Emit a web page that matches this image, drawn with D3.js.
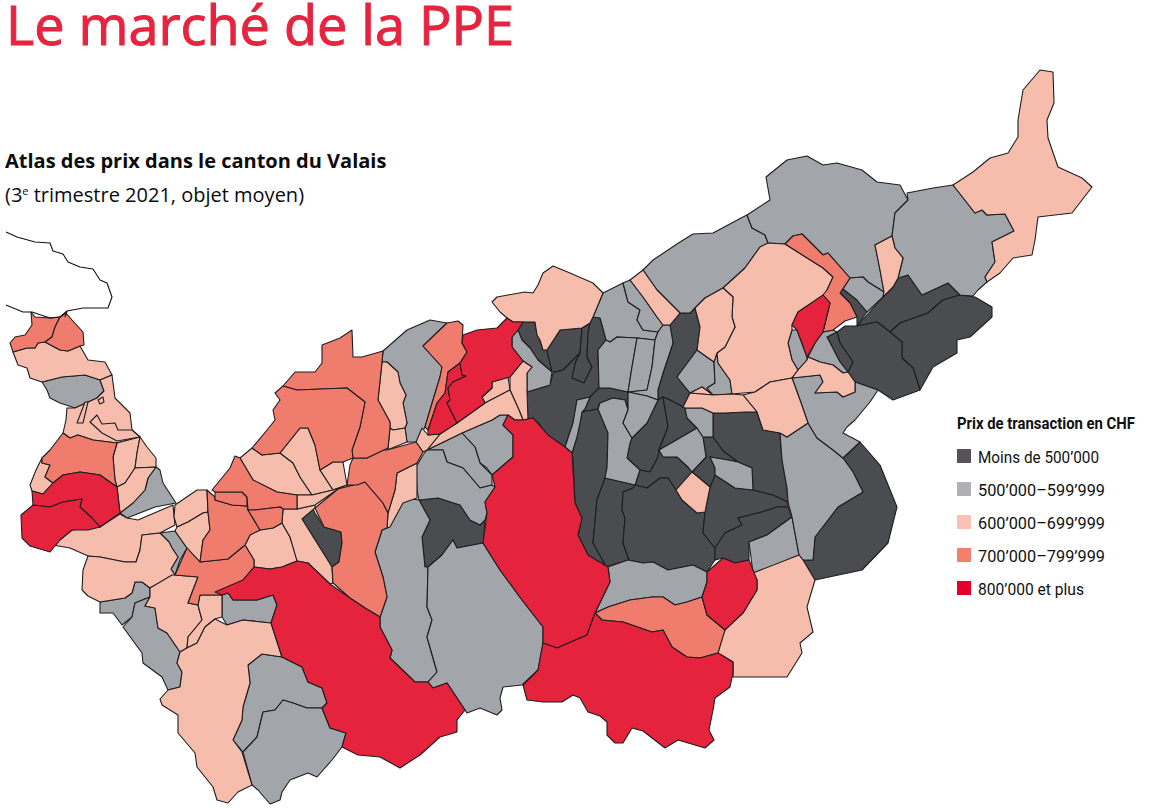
<!DOCTYPE html>
<html lang="fr">
<head>
<meta charset="utf-8">
<title>Le marché de la PPE</title>
<script src="https://cdn.jsdelivr.net/npm/d3@7"></script>
<style>
  html, body { margin: 0; padding: 0; background: #fff; }
  svg { display: block; }
  .region { stroke: #1d1d1f; stroke-width: 1.1; stroke-linejoin: round; }
  .shore { fill: none; stroke: #111; stroke-width: 1.1; stroke-linejoin: round; }
  .title { font-family: "Open Sans"; font-size: 54px; font-weight: 500; fill: #e6243f; stroke: #e6243f; stroke-width: 1; }
  .sub { font-family: "Open Sans"; font-size: 20px; fill: #0b0b0b; }
  .legend { font-family: "Roboto"; font-size: 16px; fill: #111; }
</style>
</head>
<body>
<script>
var classLabels = ["Moins de 500’000", "500’000–599’999", "600’000–699’999", "700’000–799’999", "800’000 et plus"];
var classColors = ["#4b4c50", "#a2a5aa", "#f7bdac", "#f07c6e", "#e5233d"];
var legendColors = ["#55525a", "#b0afb5", "#f9c2b3", "#f37f6c", "#e60028"];

// outlines, one list per price class
var ringsUnder500 = [
  [[312,507],[302,519],[317,543],[332,567],[339,562],[342,543],[341,532],[324,527],[315,513]],
  [[419,500],[438,498],[460,505],[470,520],[480,525],[485,520],[484,537],[483,543],[457,548],[453,540],[442,555],[428,567],[425,567],[422,537],[430,520]],
  [[523,322],[535,322],[537,335],[540,340],[543,350],[547,350],[552,372],[538,360],[530,348],[522,340],[518,330]],
  [[547,350],[560,330],[582,328],[580,353],[563,370],[552,372]],
  [[582,328],[590,323],[588,333],[587,357],[592,367],[584,383],[572,378],[575,363],[580,353]],
  [[527,392],[550,385],[553,373],[563,370],[580,353],[575,363],[572,378],[584,383],[592,367],[587,357],[588,333],[590,323],[593,317],[600,318],[602,325],[606,340],[598,350],[599,388],[590,397],[577,400],[573,423],[565,447],[550,438],[540,425],[533,418],[528,419],[525,403]],
  [[670,325],[680,313],[690,313],[695,308],[700,327],[698,343],[697,350],[677,377],[690,393],[683,407],[670,400],[663,397],[658,400],[658,390],[663,373],[673,343]],
  [[590,397],[599,388],[610,388],[628,392],[628,410],[625,400],[613,398],[600,403],[598,409],[582,412],[585,409]],
  [[582,412],[598,409],[608,433],[607,468],[605,478],[597,500],[593,543],[607,568],[588,555],[578,535],[582,518],[575,503],[573,458],[572,453],[577,437],[580,423]],
  [[605,478],[635,485],[633,488],[623,492],[622,510],[625,518],[623,543],[629,560],[608,566],[607,568],[593,543],[597,500]],
  [[663,397],[668,427],[659,450],[658,457],[650,472],[640,470],[627,458],[630,443],[632,438],[647,423],[658,400]],
  [[663,397],[670,400],[683,407],[685,408],[687,418],[697,428],[673,442],[659,450],[668,427]],
  [[640,470],[650,472],[658,457],[659,450],[663,457],[677,457],[688,467],[692,472],[676,490],[668,478],[660,478],[647,488],[635,485]],
  [[623,492],[633,488],[635,485],[647,488],[660,478],[668,478],[676,490],[682,500],[697,513],[705,512],[703,533],[715,548],[715,560],[707,572],[693,565],[668,570],[653,562],[643,563],[629,560],[623,543],[625,518],[622,510]],
  [[715,475],[735,488],[753,490],[773,495],[788,502],[788,507],[777,507],[762,512],[738,518],[742,525],[725,533],[715,548],[703,533],[705,512],[710,487]],
  [[715,548],[725,533],[742,525],[738,518],[762,512],[777,507],[788,507],[792,517],[767,535],[749,542],[749,560],[735,563],[723,558],[715,560]],
  [[713,437],[713,413],[725,413],[745,412],[757,412],[763,430],[780,433],[782,460],[787,488],[788,502],[773,495],[753,490],[752,468],[738,462],[723,451]],
  [[703,437],[713,437],[723,451],[738,462],[728,460],[710,457],[715,468],[715,475],[710,487],[692,472],[706,457]],
  [[843,458],[860,442],[880,465],[897,507],[888,543],[862,570],[815,580],[803,560],[813,560],[815,537],[838,507],[863,492],[853,472]],
  [[857,326],[883,297],[893,287],[898,278],[908,275],[922,295],[948,283],[960,295],[943,300],[928,313],[900,323],[890,332],[877,322]],
  [[900,323],[928,313],[943,300],[960,295],[975,297],[992,307],[992,317],[970,337],[957,340],[957,353],[933,367],[920,390],[913,368],[902,358],[902,342],[890,332]],
  [[837,332],[845,326],[857,326],[877,322],[890,332],[902,342],[902,358],[913,368],[920,390],[893,400],[878,390],[855,382],[848,372],[853,362],[840,343]],
  [[827,337],[837,332],[840,343],[853,362],[848,372],[840,362]],
  [[840,293],[843,289],[857,300],[867,312],[857,326],[857,317],[850,303]]
];
var rings500 = [
  [[42,382],[62,377],[85,375],[100,380],[104,391],[97,398],[75,408],[60,403],[50,398],[47,390]],
  [[156,467],[160,470],[163,483],[176,503],[155,507],[127,518],[120,513],[133,503],[145,490],[148,478]],
  [[160,533],[175,531],[187,548],[180,560],[175,575],[171,569],[178,557],[172,548],[169,542]],
  [[100,602],[125,598],[132,593],[135,582],[142,582],[150,588],[150,597],[135,603],[132,617],[122,625],[113,613],[100,613]],
  [[150,597],[145,606],[155,608],[158,628],[167,633],[180,652],[177,663],[182,672],[180,687],[168,690],[162,677],[143,663],[142,653],[123,627],[132,617],[135,603]],
  [[222,595],[228,593],[233,600],[257,600],[273,595],[277,605],[271,623],[243,620],[227,625],[222,617]],
  [[248,665],[262,654],[282,657],[302,667],[308,682],[322,688],[327,703],[322,708],[307,708],[293,703],[283,700],[275,710],[263,712],[257,737],[243,752],[233,740],[242,720],[243,707],[250,683]],
  [[263,712],[275,710],[283,700],[293,703],[307,708],[322,708],[330,728],[346,733],[342,747],[332,760],[317,777],[308,773],[290,780],[282,792],[280,800],[270,804],[258,790],[252,785],[243,752],[257,737]],
  [[383,351],[407,330],[430,320],[447,323],[423,346],[442,367],[440,377],[433,400],[425,427],[417,442],[407,442],[405,428],[407,423],[403,403],[406,395],[400,383],[398,372],[387,362],[382,362]],
  [[512,337],[518,330],[522,340],[530,348],[538,360],[552,372],[550,385],[527,392],[527,373],[532,367],[523,361],[512,347]],
  [[462,433],[492,420],[500,415],[508,415],[503,425],[513,435],[513,457],[492,475],[487,468],[480,463],[475,447]],
  [[427,450],[462,433],[475,447],[480,463],[492,475],[492,485],[480,488],[463,468],[447,462],[443,450]],
  [[416,467],[423,455],[427,450],[443,450],[447,462],[463,468],[480,488],[492,485],[495,487],[485,502],[487,513],[485,520],[480,525],[470,520],[460,505],[438,498],[419,500],[417,490]],
  [[387,528],[405,498],[419,500],[430,520],[422,537],[425,567],[428,567],[427,607],[432,620],[427,637],[437,672],[428,682],[415,682],[390,658],[392,650],[380,627],[380,617],[387,597],[383,577],[375,552],[382,530]],
  [[428,567],[442,555],[453,540],[457,548],[483,543],[500,570],[522,600],[543,627],[543,643],[538,670],[522,685],[503,687],[500,698],[502,710],[497,715],[480,708],[467,713],[465,710],[447,683],[433,688],[428,682],[437,672],[427,637],[432,620],[427,607]],
  [[608,567],[628,560],[643,563],[653,562],[668,570],[693,565],[707,572],[707,582],[702,597],[687,602],[675,605],[663,597],[652,597],[630,600],[608,607],[595,613],[610,582]],
  [[749,542],[767,535],[792,517],[799,555],[777,565],[753,573]],
  [[780,433],[787,437],[808,423],[817,438],[833,450],[843,458],[853,472],[863,492],[838,507],[815,537],[813,560],[803,560],[799,555],[792,517],[788,502],[787,488],[782,460]],
  [[792,378],[820,375],[823,382],[815,393],[837,392],[843,397],[855,392],[855,382],[878,390],[870,402],[855,420],[847,427],[843,433],[860,442],[843,458],[833,450],[817,438],[808,423],[800,400]],
  [[593,317],[603,293],[623,283],[628,302],[640,310],[637,320],[643,330],[658,332],[655,340],[637,338],[617,337],[610,342],[606,340],[602,325],[600,318]],
  [[623,283],[630,280],[643,297],[657,317],[663,325],[658,332],[643,330],[637,320],[640,310],[628,302]],
  [[643,270],[653,260],[680,242],[693,234],[713,233],[743,217],[747,215],[752,228],[765,235],[768,243],[760,247],[745,268],[723,288],[705,298],[695,308],[690,313],[680,313],[657,290]],
  [[610,342],[617,337],[637,338],[632,367],[628,392],[610,388],[599,388],[598,350],[606,340]],
  [[637,338],[655,340],[652,367],[647,390],[628,392],[632,367]],
  [[655,340],[658,332],[663,325],[670,325],[673,343],[663,373],[658,390],[658,400],[647,396],[628,392],[647,390],[652,367]],
  [[577,400],[590,397],[585,409],[582,412],[580,423],[577,437],[572,453],[565,447],[573,423]],
  [[600,403],[613,398],[625,400],[628,410],[623,423],[632,438],[630,443],[627,458],[640,470],[635,485],[605,478],[607,468],[608,433],[598,409]],
  [[628,392],[647,396],[658,400],[647,423],[632,438],[623,423],[628,410]],
  [[659,450],[673,442],[697,428],[703,437],[706,457],[692,472],[688,467],[677,457],[663,457]],
  [[710,457],[728,460],[738,462],[752,468],[753,490],[735,488],[715,475],[715,468]],
  [[685,408],[702,408],[713,413],[713,437],[703,437],[697,428],[687,418]],
  [[677,377],[697,350],[714,362],[715,383],[707,388],[713,395],[702,387],[690,393]],
  [[714,362],[717,353],[718,363],[730,380],[732,394],[713,395],[707,388],[715,383]],
  [[720,395],[732,394],[727,400]],
  [[747,215],[770,200],[766,177],[787,160],[807,156],[823,165],[837,163],[862,170],[877,182],[900,185],[908,200],[895,213],[892,236],[875,245],[880,270],[884,292],[868,282],[863,277],[850,278],[828,253],[823,255],[802,234],[793,236],[785,244],[768,243],[765,235],[752,228]],
  [[907,193],[933,188],[953,185],[975,213],[982,210],[987,215],[1005,214],[1014,231],[992,242],[995,262],[985,277],[987,282],[978,290],[973,296],[960,295],[948,283],[922,295],[908,275],[898,278],[903,258],[895,248],[892,236],[895,213],[908,200]],
  [[843,289],[850,278],[863,277],[868,282],[884,292],[883,297],[867,312],[857,300]],
  [[808,357],[815,343],[823,332],[833,330],[837,332],[827,337],[840,362],[848,372],[843,373],[833,365],[820,362]],
  [[792,330],[797,330],[807,357],[807,360],[798,370],[792,360],[788,343]]
];
var rings600 = [
  [[13,352],[27,348],[35,348],[38,343],[45,342],[60,350],[68,351],[80,346],[88,360],[105,362],[112,375],[100,380],[85,375],[62,377],[42,382],[30,378],[27,368],[18,365]],
  [[67,408],[75,408],[97,398],[104,391],[100,380],[112,375],[115,398],[130,413],[132,430],[140,437],[117,443],[93,440],[78,435],[70,438],[63,433],[66,420]],
  [[90,422],[97,415],[102,424],[115,423],[118,430],[132,430],[140,437],[117,441],[102,433]],
  [[85,402],[88,402],[83,423],[77,423]],
  [[98,400],[103,397],[104,402],[100,404]],
  [[42,458],[42,463],[50,465],[45,477],[53,483],[43,494],[32,491],[30,485],[36,470]],
  [[117,443],[140,437],[137,453],[135,468],[125,483],[117,487],[115,480],[113,457]],
  [[140,437],[147,447],[156,458],[156,467],[135,468],[137,453]],
  [[135,468],[156,467],[148,478],[145,490],[133,503],[120,513],[117,487],[125,483]],
  [[53,545],[72,530],[100,527],[120,514],[127,518],[138,520],[173,505],[175,525],[160,533],[142,535],[140,550],[136,562],[125,562],[100,557],[88,556],[70,548]],
  [[88,556],[100,557],[125,562],[136,562],[140,550],[142,535],[160,533],[169,542],[172,548],[178,557],[171,569],[175,575],[150,588],[142,582],[135,582],[132,593],[125,598],[100,602],[88,596],[82,590],[83,570]],
  [[150,588],[172,575],[175,575],[198,577],[188,603],[198,605],[202,620],[188,637],[187,648],[180,652],[167,633],[158,628],[155,608],[145,606],[150,597]],
  [[198,605],[200,595],[222,595],[222,617],[215,619],[205,627],[197,643],[187,648],[188,637],[202,620]],
  [[160,699],[168,690],[180,687],[182,672],[177,663],[180,652],[187,648],[197,643],[205,627],[215,619],[227,625],[243,620],[271,623],[282,657],[262,654],[248,665],[250,683],[243,707],[242,720],[233,740],[242,752],[252,785],[238,792],[228,803],[217,800],[213,787],[197,767],[195,753],[178,733],[178,715],[162,705]],
  [[175,505],[197,490],[207,490],[208,512],[203,513],[188,522],[177,527],[174,517]],
  [[177,527],[188,522],[203,513],[208,512],[210,530],[203,540],[200,562],[187,548],[175,531]],
  [[260,530],[273,528],[282,523],[290,537],[297,557],[297,561],[282,567],[270,569],[254,567],[254,560],[245,545],[250,535]],
  [[282,523],[283,509],[297,509],[315,505],[315,508],[302,519],[317,543],[332,567],[333,583],[330,584],[308,563],[297,561],[290,537]],
  [[365,495],[372,490],[375,497],[367,498]],
  [[395,490],[397,473],[417,463],[417,498],[403,503],[390,527],[387,528],[388,513]],
  [[240,458],[252,448],[262,455],[280,453],[293,463],[300,477],[312,495],[297,495],[277,492],[253,480]],
  [[280,453],[300,428],[308,428],[315,445],[320,470],[333,490],[312,495],[300,477],[293,463]],
  [[320,470],[333,462],[343,462],[347,485],[333,490]],
  [[297,495],[312,495],[333,490],[347,485],[357,485],[338,489],[315,505],[297,509]],
  [[382,362],[387,362],[398,372],[400,383],[406,395],[403,403],[407,423],[405,428],[393,430],[390,428],[390,422],[378,400]],
  [[393,430],[405,428],[407,442],[387,450],[388,448],[390,428]],
  [[492,302],[497,297],[508,295],[525,292],[533,293],[538,285],[543,273],[553,266],[570,273],[593,283],[603,293],[593,317],[590,323],[582,328],[560,330],[547,350],[543,350],[540,340],[537,335],[535,322],[523,322],[513,322],[507,318],[500,312]],
  [[492,382],[508,377],[510,390],[485,403],[482,397],[492,388]],
  [[510,377],[523,361],[532,367],[527,373],[527,392],[528,419],[523,420],[519,410],[510,390]],
  [[485,403],[510,390],[519,410],[523,420],[515,420],[508,415],[500,415],[492,420],[462,433],[427,450],[440,434],[457,423]],
  [[416,442],[422,428],[428,435],[440,434],[427,450],[423,452]],
  [[753,573],[799,555],[803,560],[815,580],[807,607],[813,632],[800,643],[802,653],[787,677],[733,677],[733,662],[718,653],[723,630],[743,613],[757,590],[757,580]],
  [[723,288],[745,268],[760,247],[768,243],[785,244],[823,268],[833,277],[827,290],[825,295],[812,303],[798,312],[792,325],[792,330],[788,343],[792,360],[798,370],[792,378],[770,382],[755,392],[732,394],[730,380],[718,363],[717,353],[725,347],[735,327],[732,317],[733,297]],
  [[695,308],[705,298],[723,288],[733,297],[732,317],[735,327],[725,347],[717,353],[714,362],[697,350],[698,343],[700,327]],
  [[743,395],[755,392],[770,382],[792,378],[800,400],[808,423],[787,437],[780,433],[763,430],[757,412]],
  [[630,280],[643,270],[657,290],[680,313],[670,325],[663,325],[657,317],[643,297]],
  [[692,472],[710,487],[705,512],[697,513],[682,500],[676,490]],
  [[690,393],[702,387],[713,395]],
  [[690,393],[713,395],[732,394],[743,395],[757,412],[745,412],[725,413],[713,413],[702,408],[685,408],[683,407]],
  [[875,245],[892,236],[895,248],[903,258],[898,278],[893,287],[883,297],[884,292],[880,270]],
  [[953,185],[973,172],[990,158],[1008,153],[1018,137],[1018,120],[1023,90],[1040,70],[1053,72],[1054,103],[1047,120],[1048,138],[1058,167],[1082,178],[1092,187],[1072,213],[1038,217],[1035,240],[1032,255],[1013,258],[1000,273],[987,282],[985,277],[995,262],[992,242],[1014,231],[1005,214],[987,215],[982,210],[975,213]],
  [[808,357],[820,362],[833,365],[843,373],[848,372],[855,382],[855,392],[843,397],[837,392],[815,393],[823,382],[820,375],[792,378],[798,370],[807,360]]
];
var rings700 = [
  [[31,312],[35,317],[50,318],[60,317],[55,327],[52,337],[45,342],[38,343],[35,348],[27,348],[13,352],[10,343],[15,337],[25,335],[32,325]],
  [[60,317],[66,313],[72,320],[83,332],[84,345],[80,346],[68,351],[60,350],[45,342],[52,337],[55,327]],
  [[42,458],[50,450],[63,433],[70,438],[78,435],[93,440],[117,443],[113,457],[115,480],[117,487],[100,475],[80,472],[63,475],[53,483],[45,477],[50,465],[42,463]],
  [[198,577],[188,603],[198,605],[200,595],[222,595],[243,580],[254,567],[254,560],[245,545],[228,559],[200,562],[187,548],[175,575]],
  [[207,490],[215,497],[215,500],[232,505],[247,506],[248,510],[260,530],[250,535],[245,545],[228,559],[200,562],[203,540],[210,530],[208,512]],
  [[215,492],[242,492],[247,497],[247,506],[232,505],[215,500]],
  [[212,490],[230,468],[235,456],[240,458],[253,480],[277,492],[297,495],[297,509],[283,509],[280,507],[255,510],[248,510],[247,497],[242,492],[215,492]],
  [[248,510],[255,510],[280,507],[283,509],[282,523],[273,528],[260,530]],
  [[315,508],[338,489],[365,482],[383,503],[388,513],[387,528],[382,530],[375,552],[383,577],[387,597],[380,617],[365,608],[350,598],[333,583],[332,567],[339,562],[342,543],[341,532],[324,527]],
  [[350,465],[353,458],[367,458],[383,450],[387,450],[416,442],[423,452],[417,463],[397,473],[395,490],[388,513],[383,503],[365,482],[357,485],[347,485]],
  [[283,386],[295,372],[315,372],[322,363],[322,345],[340,338],[352,330],[353,357],[362,357],[383,351],[382,362],[378,400],[390,422],[390,428],[388,448],[367,458],[353,458],[352,450],[360,427],[365,402],[347,388],[297,390]],
  [[283,386],[297,390],[347,388],[365,402],[360,427],[352,450],[353,458],[343,462],[333,462],[320,470],[315,445],[308,428],[300,428],[280,453],[262,455],[252,448],[267,430],[275,420],[273,410],[280,400],[275,393]],
  [[423,346],[447,323],[458,321],[463,325],[462,343],[467,352],[460,363],[448,372],[445,393],[437,403],[428,430],[425,427],[433,400],[440,377],[442,367]],
  [[595,613],[608,607],[630,600],[652,597],[663,597],[675,605],[687,602],[702,597],[707,615],[725,630],[718,653],[700,658],[687,657],[672,647],[663,630],[652,632],[623,622],[602,620]],
  [[785,244],[793,236],[802,234],[823,255],[828,253],[850,278],[840,293],[850,303],[857,317],[845,321],[833,330],[823,332],[830,303],[823,295],[827,290],[833,277],[823,268]]
];
var rings800 = [
  [[32,491],[43,494],[53,483],[63,475],[80,472],[100,475],[117,487],[120,513],[107,522],[100,527],[92,518],[80,507],[82,499],[63,502],[50,507],[33,505]],
  [[33,505],[50,507],[63,502],[82,499],[80,507],[92,518],[100,527],[88,530],[72,530],[60,540],[50,552],[30,546],[22,538],[21,515]],
  [[215,592],[243,580],[254,567],[270,569],[282,567],[297,561],[308,563],[330,584],[350,598],[365,608],[380,617],[380,627],[392,650],[390,658],[415,682],[428,682],[433,688],[447,683],[465,710],[457,720],[457,732],[440,737],[420,755],[400,768],[380,757],[358,755],[342,747],[346,733],[330,728],[322,708],[327,703],[322,688],[308,682],[302,667],[282,657],[271,623],[277,605],[273,595],[257,600],[233,600],[228,593],[222,595]],
  [[460,363],[462,375],[466,376],[453,382],[448,388],[450,400],[447,403],[457,423],[440,434],[428,435],[428,430],[437,403],[445,393],[448,372]],
  [[463,335],[477,330],[497,328],[507,318],[513,322],[523,322],[518,330],[512,337],[512,347],[523,361],[510,377],[492,382],[492,388],[482,397],[485,403],[457,423],[447,403],[450,400],[448,388],[453,382],[466,376],[462,375],[460,363],[467,352],[462,343]],
  [[503,425],[508,415],[515,420],[523,420],[528,419],[533,418],[548,435],[565,447],[572,453],[575,503],[582,518],[578,535],[588,555],[608,567],[610,582],[595,613],[587,635],[557,648],[543,643],[543,627],[522,600],[500,570],[483,543],[487,513],[485,502],[495,487],[492,475],[513,457],[513,435]],
  [[595,613],[602,620],[623,622],[652,632],[663,630],[672,647],[687,657],[700,658],[718,653],[733,662],[733,673],[730,687],[715,698],[713,710],[709,730],[714,740],[705,748],[678,740],[665,748],[643,731],[632,728],[623,743],[615,743],[607,735],[607,722],[600,716],[588,712],[580,698],[573,695],[562,702],[543,702],[527,700],[523,685],[538,670],[543,643],[557,648],[587,635]],
  [[707,572],[723,558],[735,563],[749,560],[757,580],[757,590],[743,613],[725,630],[707,615],[702,597],[707,582]],
  [[792,325],[798,312],[823,295],[830,303],[823,332],[815,343],[807,357],[797,330]]
];
// the lake at the western end is only an outline
var lakeNorth = [[6,232],[17,237],[35,242],[50,243],[53,251],[63,254],[68,262],[80,267],[93,269],[100,280],[107,283],[112,297],[108,308],[83,308],[67,311],[65,317]];
var lakeSouth = [[6,305],[23,312],[32,312],[50,318],[60,317],[67,311]];

// widths of the condensed legend lines in the original
var legendTitleWidth = 178;
var legendWidths = [121, 127, 127, 127, 106];

var color = d3.scaleOrdinal().domain(classLabels).range(classColors);

var svg = d3.select("body").append("svg")
    .attr("width", 1176)
    .attr("height", 808);

// the rings already are in picture units, geoIdentity just passes them through
var path = d3.geoPath(d3.geoIdentity());

var features = [];
[ringsUnder500, rings500, rings600, rings700, rings800].forEach(function(rings, i) {
  rings.forEach(function(ring) {
    features.push({
      type: "Feature",
      properties: {label: classLabels[i]},
      geometry: {type: "Polygon", coordinates: [ring.concat([ring[0]])]}
    });
  });
});

svg.append("g").selectAll("path")
    .data(features)
  .enter()
    .append("path")
    .attr("class", "region")
    .attr("d", path)
    .attr("fill", function(d) { return color(d.properties.label); });

svg.append("g").selectAll("path")
    .data([lakeNorth, lakeSouth])
  .enter()
    .append("path")
    .attr("class", "shore")
    .attr("d", function(d) { return path({type: "LineString", coordinates: d}); });

// titles
svg.append("text").attr("class", "title").attr("x", 6).attr("y", 45).text("Le marché de la PPE");

svg.append("text").attr("class", "sub").attr("x", 5).attr("y", 168)
    .style("font-weight", 700)
    .text("Atlas des prix dans le canton du Valais");

var line2 = svg.append("text").attr("class", "sub").attr("x", 5).attr("y", 202);
line2.append("tspan").text("(3");
line2.append("tspan").attr("dy", -7).style("font-size", "11px").text("e");
line2.append("tspan").attr("dy", 7).text(" trimestre 2021, objet moyen)");

// legend
var y = d3.scalePoint().domain(classLabels).range([463, 595]);

svg.append("text").attr("class", "legend").attr("x", 957).attr("y", 429)
    .style("font-weight", 700)
    .attr("textLength", legendTitleWidth)
    .attr("lengthAdjust", "spacingAndGlyphs")
    .text("Prix de transaction en CHF");

var items = svg.append("g").selectAll("g")
    .data(classLabels)
  .enter()
    .append("g");

items.append("rect")
    .attr("x", 957)
    .attr("y", function(d) { return y(d) - 14; })
    .attr("width", 14)
    .attr("height", 14)
    .attr("fill", function(d, i) { return legendColors[i]; });

items.append("text")
    .attr("class", "legend")
    .attr("x", 978)
    .attr("y", function(d) { return y(d); })
    .attr("textLength", function(d, i) { return legendWidths[i]; })
    .attr("lengthAdjust", "spacingAndGlyphs")
    .text(function(d) { return d; });
</script>
</body>
</html>
